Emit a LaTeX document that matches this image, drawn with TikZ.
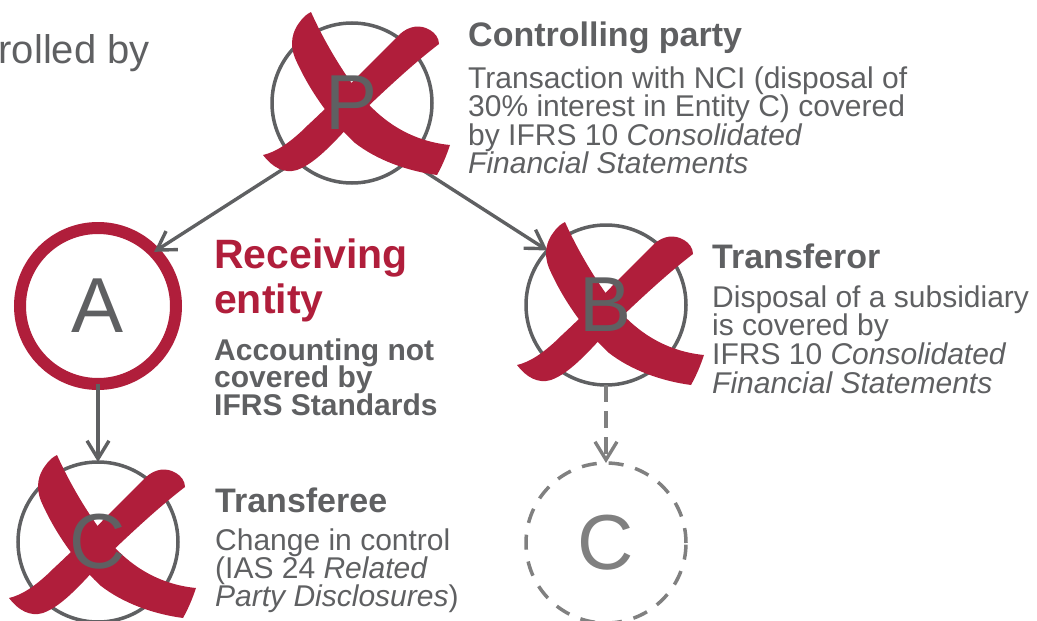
\documentclass[tikz,border=0pt]{standalone}
\usepackage{fontspec}
\setmainfont{Liberation Sans}
\usetikzlibrary{arrows.meta}
\definecolor{txtgray}{RGB}{95,96,98}
\definecolor{xred}{RGB}{176,30,59}
\definecolor{dashgray}{RGB}{128,128,128}
\newcommand\txtlines[3]{\parbox[t]{25cm}{\fontsize{#1}{#2}\selectfont\lineskiplimit=-100pt\raggedright #3}}
\tikzset{
  circ/.style={circle, draw=txtgray, line width=3.5pt, minimum size=160pt, inner sep=0pt, outer sep=0pt},
  letter/.style={text=txtgray, font=\fontsize{78}{78}\selectfont, inner sep=0pt},
  arr/.style={draw=txtgray, line width=3.4pt, -{Straight Barb[length=18pt,width=22pt]}},
  blk/.style={anchor=base west, inner sep=0pt, text=txtgray},
  ttl/.style={blk, font=\bfseries\fontsize{34}{34}\selectfont},
  pics/xmark/.style={code={
    \fill[xred] (-41,-91) .. controls (-28,-62) and (-10,-32) .. (7,-10)
      .. controls (27,16) and (57,38) .. (98,42)
      .. controls (94,54) and (90,63) .. (85,72)
      .. controls (55,68) and (25,57) .. (3,40)
      .. controls (-22,17) and (-44,-15) .. (-57,-45)
      .. controls (-63,-60) and (-59,-72) .. (-53,-80)
      .. controls (-49,-86) and (-45,-89) .. (-41,-91) -- cycle;
    \fill[xred] (87,-59) .. controls (62,-40) and (32,-12) .. (7,12)
      .. controls (-13,34) and (-35,60) .. (-55,67)
      .. controls (-68,71) and (-80,64) .. (-89,52)
      .. controls (-76,49) and (-62,40) .. (-44,22)
      .. controls (-19,-1) and (18,-39) .. (48,-69)
      .. controls (57,-77) and (68,-79) .. (78,-73)
      .. controls (83,-70) and (87,-65) .. (87,-59) -- cycle;
  }}
}
\begin{document}
\begin{tikzpicture}[x=1pt,y=-1pt]
\useasboundingbox (0,0) rectangle (1037,621);
% circles
\node[circ] (P) at (352,103) {};
\node[circ, draw=xred, line width=12pt, minimum size=156pt] (A) at (98,306) {};
\node[circ] (B) at (606,305) {};
\node[circ] (C1) at (98,542) {};
\node[circ, draw=dashgray, dash pattern=on 15pt off 12pt] (C2) at (606,543) {};
% connectors
\draw[arr] (P.226) -- (A.44);
\draw[arr] (P.314) -- (B.137);
\draw[arr] (A.south) -- (C1.north);
\draw[arr, draw=dashgray, dash pattern=on 17pt off 9pt] (B.south) -- (C2.north);
% crosses
\pic at (352,103) {xmark};
\pic at (606,313) {xmark};
\pic at (98,546) {xmark};
% letters
\node[letter] (Pl) at (P.center) {P};
\node[letter] (Al) at (A.center) {A};
\node[letter] (Bl) at (B.center) {B};
\node[letter] (C1l) at (C1.center) {C};
\node[letter, text=dashgray] (C2l) at (C2.center) {C};
% texts
\node[blk, anchor=base east, font=\fontsize{40}{40}\selectfont] (ctl) at (150,63) {controlled by};
\node[ttl] (cpt) at (468,46) {Controlling party};
\node[blk] (cpb) at (468,88) {\txtlines{30}{28.5}{Transaction with NCI (disposal of\\30\% interest in Entity C) covered\\by IFRS 10 \textit{Consolidated}\\\textit{Financial Statements}}};
\node[blk, text=xred] (rct) at (214,268) {\txtlines{41}{45}{\bfseries Receiving\\entity}};
\node[blk] (rcb) at (214,360) {\txtlines{30}{27.7}{\bfseries Accounting not\\covered by\\IFRS Standards}};
\node[ttl] (tft) at (712,268) {Transferor};
\node[blk] (tfb) at (712,307) {\txtlines{30}{28.7}{Disposal of a subsidiary\\is covered by\\IFRS 10 \textit{Consolidated}\\\textit{Financial Statements}}};
\node[ttl] (tet) at (215,512) {Transferee};
\node[blk] (teb) at (215,550) {\txtlines{30}{28}{Change in control\\(IAS 24 \textit{Related}\\\textit{Party Disclosures})}};
\end{tikzpicture}
\end{document}
